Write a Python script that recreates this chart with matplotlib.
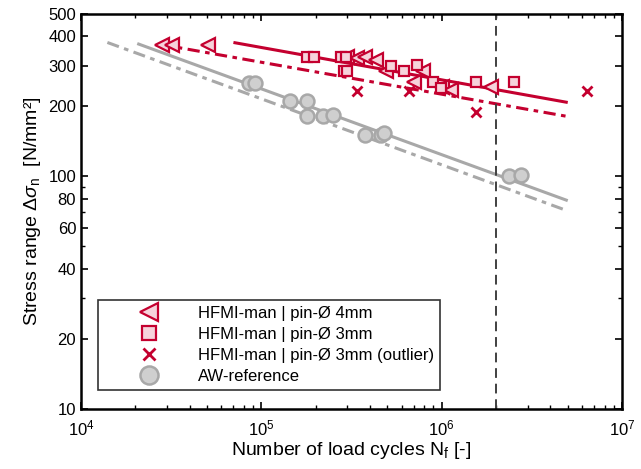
import matplotlib
matplotlib.use("Agg")
import matplotlib.pyplot as plt
import matplotlib.ticker as mticker
import numpy as np

plt.rcParams['font.family'] = ['Liberation Sans', 'DejaVu Sans']
plt.rcParams['mathtext.fontset'] = 'custom'
plt.rcParams['mathtext.rm'] = 'Liberation Sans'
plt.rcParams['mathtext.it'] = 'Liberation Sans:italic'
plt.rcParams['mathtext.bf'] = 'Liberation Sans:bold'

# test data: cycles to failure / stress range
pin4_N = [2.82e4, 3.2e4, 5.08e4, 3.0e5, 3.41e5, 3.78e5, 4.3e5, 4.88e5,
          6.98e5, 7.83e5, 1.01e6, 1.12e6, 1.87e6]
pin4_S = [366, 366, 366, 325, 322, 325, 318, 283,
          256, 283, 243, 236, 243]

pin3_N = [1.78e5, 1.95e5, 2.75e5, 2.93e5, 2.86e5, 3.0e5, 5.21e5, 6.15e5,
          7.26e5, 8.91e5, 9.87e5, 1.55e6, 2.51e6]
pin3_S = [325, 325, 325, 325, 283, 283, 300, 283,
          303, 254, 241, 254, 254]

outlier_N = [3.41e5, 6.56e5, 1.55e6, 6.39e6]
outlier_S = [232, 232, 190, 232]

aw_N = [8.57e4, 9.26e4, 1.45e5, 1.78e5, 1.80e5, 2.19e5, 2.51e5,
        3.78e5, 4.58e5, 4.76e5, 2.35e6, 2.75e6]
aw_S = [253, 253, 212, 212, 181, 181, 183,
        151, 151, 153, 100, 101]

# S-N curves (mean and characteristic)
hfmi_mean_N = [7.0e4, 5.0e6]
hfmi_mean_S = [377, 208]
hfmi_char_N = [2.75e4, 5.0e6]
hfmi_char_S = [370, 181]
aw_mean_N = [2.05e4, 5.0e6]
aw_mean_S = [373, 78.6]
aw_char_N = [1.4e4, 5.0e6]
aw_char_S = [377, 71]

knee_N = 2e6

red = '#C4002F'
pink = '#F6D3DB'
grey = '#A8A8A8'
grey_fill = '#CFCFCF'

fig = plt.figure(figsize=(6.41, 4.69), dpi=100)
ax = fig.add_axes([0.1264, 0.1286, 0.8440, 0.8416])

dash = (0, (4, 1.8, 1.5, 1.8))
ax.plot(hfmi_mean_N, hfmi_mean_S, color=red, lw=2.2, solid_capstyle='butt')
ax.plot(hfmi_char_N, hfmi_char_S, color=red, lw=2.2, linestyle=dash)
ax.plot(aw_mean_N, aw_mean_S, color=grey, lw=2.2, solid_capstyle='butt')
ax.plot(aw_char_N, aw_char_S, color=grey, lw=2.2, linestyle=dash)
ax.axvline(knee_N, color='#404040', lw=1.4, linestyle=(0, (5, 3)))

ax.plot(pin4_N, pin4_S, '<', ms=10, mfc=pink, mec=red, mew=1.6, ls='none',
        label='HFMI-man | pin-Ø 4mm')
ax.plot(pin3_N, pin3_S, 's', ms=7.5, mfc=pink, mec=red, mew=1.6, ls='none',
        label='HFMI-man | pin-Ø 3mm')
ax.plot(outlier_N, outlier_S, 'x', ms=6.5, mec=red, mew=2, ls='none',
        label='HFMI-man | pin-Ø 3mm (outlier)')
ax.plot(aw_N, aw_S, 'o', ms=10, mfc=grey_fill, mec=grey, mew=1.8, ls='none',
        label='AW-reference')

ax.set_xscale('log')
ax.set_yscale('log')
ax.set_xlim(1e4, 1e7)
ax.set_ylim(10, 500)

ax.xaxis.set_major_locator(mticker.LogLocator(base=10, numticks=10))
ax.xaxis.set_minor_locator(mticker.LogLocator(base=10, subs=np.arange(2, 10), numticks=20))
yticks = [10, 20, 40, 60, 80, 100, 200, 300, 400, 500]
ax.yaxis.set_major_locator(mticker.FixedLocator(yticks))
ax.yaxis.set_major_formatter(mticker.FixedFormatter([str(v) for v in yticks]))
ax.yaxis.set_minor_locator(mticker.LogLocator(base=10, subs=np.arange(2, 10), numticks=20))
ax.yaxis.set_minor_formatter(mticker.NullFormatter())

ax.tick_params(which='both', direction='in', top=True, right=True, labelsize=12)
ax.tick_params(which='major', length=5, width=1.2)
ax.tick_params(which='minor', length=3, width=1)
ax.tick_params(axis='x', which='major', pad=7)
for s in ax.spines.values():
    s.set_linewidth(1.8)

ax.set_xlabel(r'Number of load cycles N$_\mathrm{f}$ [-]', fontsize=14, labelpad=1)
ax.set_ylabel(r'Stress range $\Delta\sigma_\mathrm{n}$  [N/mm²]', fontsize=14, labelpad=4)

leg = ax.legend(loc='lower left', bbox_to_anchor=(0.031, 0.047), fontsize=12,
                markerscale=1.3, fancybox=False, edgecolor='#333333',
                framealpha=1, borderaxespad=0, handletextpad=0.25,
                handlelength=5.4, labelspacing=0.36, borderpad=0.35)
leg.get_frame().set_linewidth(1.2)

fig.savefig('out.png', dpi=100)
